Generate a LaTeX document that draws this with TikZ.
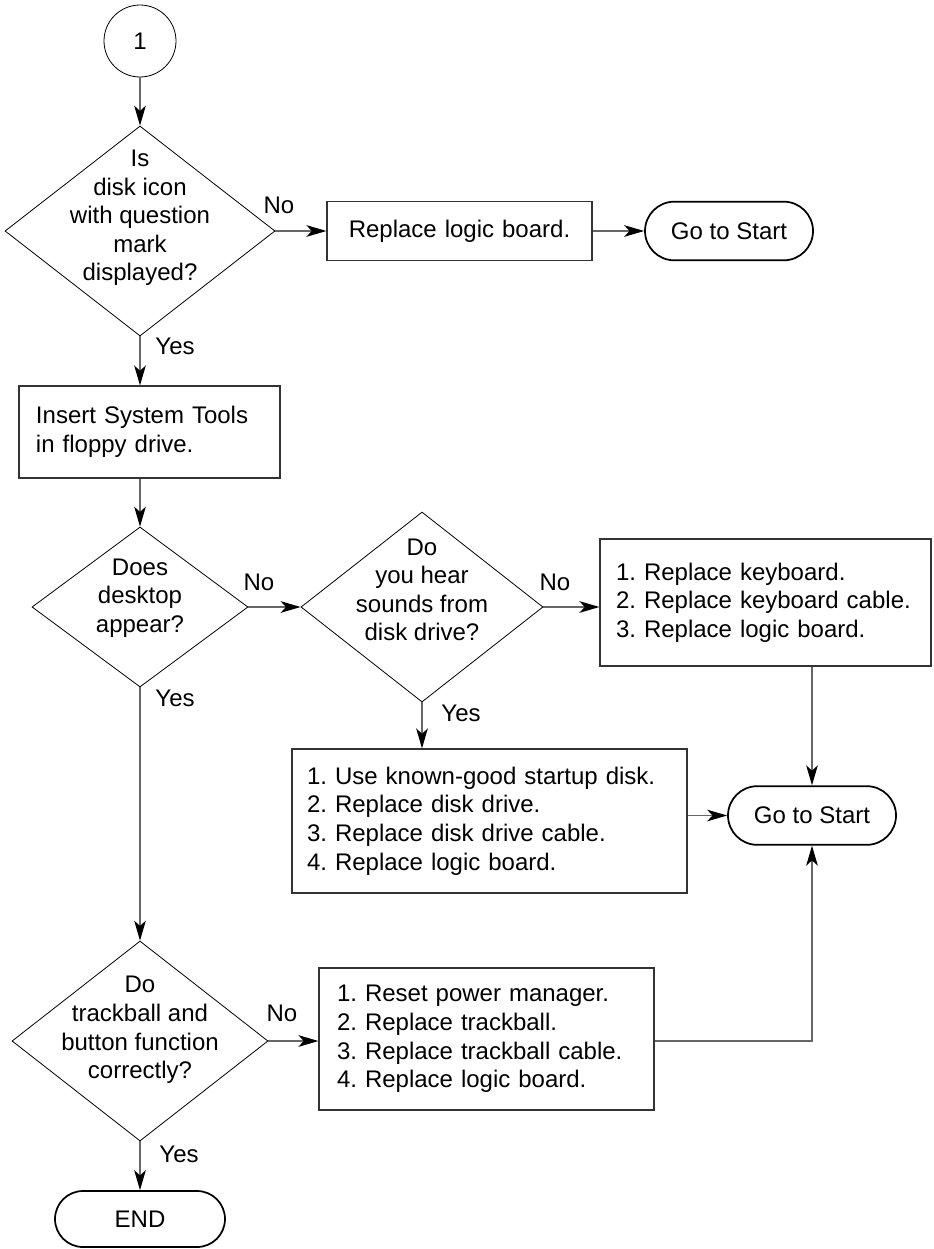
\documentclass[tikz,border=0pt]{standalone}
\usepackage{fontspec}
\setmainfont{Liberation Sans}
\usetikzlibrary{shapes.geometric,shapes.misc,arrows.meta}
\frenchspacing

\begin{document}
\begin{tikzpicture}[x=0.75pt,y=-0.75pt,
    font=\fontsize{18pt}{21.4pt}\selectfont,
    decision/.style={diamond,draw,line width=0.6pt,inner sep=0pt},
    qtext/.style={align=center,inner sep=0pt},
    stepbox/.style={rectangle,draw=black!80,line width=0.9pt,align=left,inner ysep=0pt},
    terminal/.style={rounded rectangle,draw,line width=1.3pt,inner sep=0pt,
      minimum width=126pt,minimum height=44pt},
    conn/.style={draw=black!60,line width=0.9pt,
      -{Stealth[length=15pt,width=8.75pt,inset=4pt,color=black]}},
    answer/.style={inner sep=0pt}]

  % Fix the page size
  \useasboundingbox (0,0) rectangle (933,1249);

  % Connector mark at the top
  \node[circle,draw,line width=0.6pt,minimum size=54pt,inner sep=0pt] (start) at (140,41) {1};

  % First question
  \node[decision,minimum width=202.5pt,minimum height=157.5pt] (d1) at (140,231) {};
  \node[qtext] (d1t) at (140,218) {Is\\disk icon\\with question\\mark\\displayed?};

  \node[stepbox,align=center,inner xsep=0pt,text width=198.75pt,minimum height=44.25pt] (rlb) at (459.5,231) {Replace logic board.};
  \node[terminal] (gts1) at (729,231) {Go to Start};

  % Boot from the floppy
  \node[stepbox,inner xsep=12.75pt,text width=170.25pt,minimum height=69pt] (ins) at (149.5,432) {Insert System Tools\\in floppy drive.};

  % Second question
  \node[decision,minimum width=162pt,minimum height=120pt] (d2) at (140,607) {};
  \node[qtext] (d2t) at (140,598) {Does\\desktop\\appear?};

  % Third question
  \node[decision,minimum width=181.5pt,minimum height=142.5pt] (d3) at (422,607) {};
  \node[qtext] (d3t) at (422,590) {Do\\you hear\\sounds from\\disk drive?};

  \node[stepbox,inner xsep=12pt,text width=224.25pt,minimum height=95.25pt] (kb) at (765.5,602.5) {1. Replace keyboard.\\2. Replace keyboard cable.\\3. Replace logic board.};
  \node[stepbox,inner xsep=11.25pt,text width=273.75pt,minimum height=108pt] (disk) at (489.5,821) {1. Use known-good startup disk.\\2. Replace disk drive.\\3. Replace disk drive cable.\\4. Replace logic board.};
  \node[terminal] (gts2) at (812,815.5) {Go to Start};

  % Fourth question
  \node[decision,minimum width=192pt,minimum height=150pt] (d4) at (140,1041) {};
  \node[qtext] (d4t) at (140,1030) {Do\\trackball and\\button function\\correctly?};

  \node[stepbox,inner xsep=13.5pt,text width=224.25pt,minimum height=106.5pt] (pw) at (486.5,1039) {1. Reset power manager.\\2. Replace trackball.\\3. Replace trackball cable.\\4. Replace logic board.};
  \node[terminal,minimum width=127.5pt,minimum height=42pt] (endn) at (140,1219) {END};

  % Connectors
  \draw[conn] (start) -- (d1);
  \draw[conn] (d1.east) -- (rlb.west);
  \draw[conn] (rlb.east) -- (gts1.west);
  \draw[conn] (d1.south) -- (d1.south |- ins.north);
  \draw[conn] (ins.south -| d2.north) -- (d2.north);
  \draw[conn] (d2.east) -- (d3.west);
  \draw[conn] (d2.south) -- (d4.north);
  \draw[conn] (d3.east) -- (d3.east -| kb.west);
  \draw[conn] (d3.south) -- (d3.south |- disk.north);
  \draw[conn] (kb.south -| gts2.north) -- (gts2.north);
  \draw[conn] (disk.east |- gts2.west) -- (gts2.west);
  \draw[conn] (d4.east) -- (d4.east -| pw.west);
  \draw[conn] (pw.east |- d4.east) -| (gts2.south);
  \draw[conn] (d4.south) -- (endn.north);

  % Answers
  \node[answer] (no1) at (279,205) {No};
  \node[answer] (yes1) at (175,346) {Yes};
  \node[answer] (no2) at (259,582) {No};
  \node[answer] (yes2) at (175,698) {Yes};
  \node[answer] (no3) at (555,582) {No};
  \node[answer] (yes3) at (461,713) {Yes};
  \node[answer] (no4) at (282,1013) {No};
  \node[answer] (yes4) at (179,1154) {Yes};
\end{tikzpicture}
\end{document}
